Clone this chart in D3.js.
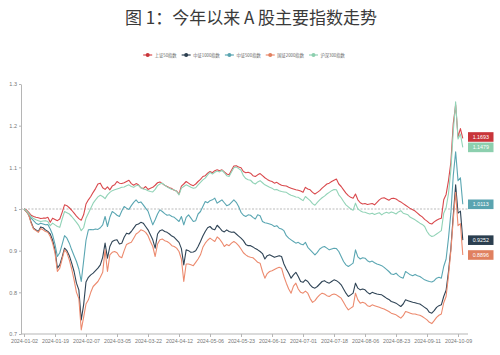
<!DOCTYPE html>
<html><head><meta charset="utf-8">
<script src="https://cdn.jsdelivr.net/npm/d3@7"></script>
<style>
html,body{margin:0;padding:0;background:#fff;}
svg{display:block;}
</style></head><body>
<svg id="c" width="500" height="355"></svg>
<script>
const dates = [
"2024-01-02","2024-01-03","2024-01-04","2024-01-05","2024-01-08","2024-01-09","2024-01-10","2024-01-11","2024-01-12","2024-01-15","2024-01-16","2024-01-17","2024-01-18","2024-01-19","2024-01-22","2024-01-23","2024-01-24","2024-01-25","2024-01-26","2024-01-29","2024-01-30","2024-01-31",
"2024-02-01","2024-02-02","2024-02-05","2024-02-06","2024-02-07","2024-02-08","2024-02-19","2024-02-20","2024-02-21","2024-02-22","2024-02-23","2024-02-26","2024-02-27","2024-02-28","2024-02-29",
"2024-03-01","2024-03-04","2024-03-05","2024-03-06","2024-03-07","2024-03-08","2024-03-11","2024-03-12","2024-03-13","2024-03-14","2024-03-15","2024-03-18","2024-03-19","2024-03-20","2024-03-21","2024-03-22","2024-03-25","2024-03-26","2024-03-27","2024-03-28","2024-03-29",
"2024-04-01","2024-04-02","2024-04-03","2024-04-08","2024-04-09","2024-04-10","2024-04-11","2024-04-12","2024-04-15","2024-04-16","2024-04-17","2024-04-18","2024-04-19","2024-04-22","2024-04-23","2024-04-24","2024-04-25","2024-04-26","2024-04-29","2024-04-30",
"2024-05-06","2024-05-07","2024-05-08","2024-05-09","2024-05-10","2024-05-13","2024-05-14","2024-05-15","2024-05-16","2024-05-17","2024-05-20","2024-05-21","2024-05-22","2024-05-23","2024-05-24","2024-05-27","2024-05-28","2024-05-29","2024-05-30","2024-05-31",
"2024-06-03","2024-06-04","2024-06-05","2024-06-06","2024-06-07","2024-06-11","2024-06-12","2024-06-13","2024-06-14","2024-06-17","2024-06-18","2024-06-19","2024-06-20","2024-06-21","2024-06-24","2024-06-25","2024-06-26","2024-06-27","2024-06-28",
"2024-07-01","2024-07-02","2024-07-03","2024-07-04","2024-07-05","2024-07-08","2024-07-09","2024-07-10","2024-07-11","2024-07-12","2024-07-15","2024-07-16","2024-07-17","2024-07-18","2024-07-19","2024-07-22","2024-07-23","2024-07-24","2024-07-25","2024-07-26","2024-07-29","2024-07-30","2024-07-31",
"2024-08-01","2024-08-02","2024-08-05","2024-08-06","2024-08-07","2024-08-08","2024-08-09","2024-08-12","2024-08-13","2024-08-14","2024-08-15","2024-08-16","2024-08-19","2024-08-20","2024-08-21","2024-08-22","2024-08-23","2024-08-26","2024-08-27","2024-08-28","2024-08-29","2024-08-30",
"2024-09-02","2024-09-03","2024-09-04","2024-09-05","2024-09-06","2024-09-09","2024-09-10","2024-09-11","2024-09-12","2024-09-13","2024-09-18","2024-09-19","2024-09-20","2024-09-23","2024-09-24","2024-09-25","2024-09-26","2024-09-27","2024-09-30",
"2024-10-08","2024-10-09","2024-10-10","2024-10-11"];

const xTickDates = ["2024-01-02","2024-01-19","2024-02-07","2024-03-05","2024-03-22","2024-04-12","2024-05-06","2024-05-23","2024-06-12","2024-07-01","2024-07-18","2024-08-06","2024-08-23","2024-09-11","2024-10-09"];
const yTicks = [0.7,0.8,0.9,1.0,1.1,1.2,1.3];

const seriesNames = ["上证50指数","中证1000指数","中证500指数","国证2000指数","沪深300指数"];

const sz50 = [
1.000,0.998,0.992,0.985,0.982,0.980,0.979,0.977,0.978,0.978,0.980,0.968,0.978,0.975,0.972,0.976,0.992,1.010,1.008,1.003,
0.997,0.990,0.983,0.977,0.973,0.986,1.012,1.022,1.030,1.040,1.049,1.060,1.062,1.051,1.047,1.053,1.046,1.055,1.058,1.066,
1.062,1.061,1.063,1.066,1.069,1.061,1.057,1.061,1.058,1.051,1.049,1.054,1.047,1.050,1.052,1.057,1.063,1.065,1.061,1.057,
1.054,1.051,1.049,1.045,1.043,1.036,1.055,1.060,1.066,1.062,1.058,1.056,1.060,1.066,1.071,1.078,1.080,1.086,1.090,1.087,
1.092,1.094,1.092,1.094,1.089,1.084,1.082,1.093,1.103,1.104,1.101,1.099,1.090,1.087,1.088,1.086,1.080,1.078,1.082,1.085,
1.080,1.075,1.071,1.068,1.066,1.062,1.064,1.060,1.057,1.056,1.055,1.052,1.050,1.048,1.046,1.045,1.043,1.040,1.052,1.048,
1.046,1.040,1.036,1.040,1.044,1.050,1.055,1.060,1.062,1.066,1.069,1.072,1.060,1.054,1.046,1.038,1.032,1.028,1.026,1.036,
1.022,1.015,1.012,1.013,1.011,1.012,1.013,1.010,1.016,1.022,1.026,1.027,1.024,1.021,1.025,1.026,1.024,1.020,1.017,1.013,
1.009,1.005,1.001,0.998,0.995,0.990,0.985,0.981,0.975,0.971,0.966,0.964,0.969,0.973,0.976,0.978,1.022,1.035,1.068,1.112,
1.205,1.250,1.173,1.193,1.1693];

const zz1000 = [
1.000,0.994,0.986,0.968,0.954,0.950,0.946,0.957,0.955,0.950,0.946,0.940,0.925,0.902,0.858,0.866,0.885,0.906,0.900,0.888,
0.870,0.850,0.822,0.806,0.734,0.770,0.825,0.836,0.842,0.846,0.852,0.858,0.866,0.884,0.918,0.882,0.910,0.922,0.925,0.926,
0.916,0.918,0.932,0.942,0.940,0.946,0.954,0.962,0.964,0.968,0.966,0.958,0.950,0.938,0.926,0.906,0.940,0.948,0.950,0.946,
0.944,0.940,0.935,0.932,0.926,0.920,0.905,0.866,0.902,0.900,0.896,0.897,0.900,0.910,0.922,0.935,0.946,0.955,0.958,0.952,
0.950,0.961,0.955,0.948,0.945,0.950,0.946,0.944,0.945,0.940,0.935,0.930,0.924,0.915,0.912,0.912,0.909,0.905,0.902,0.898,
0.893,0.880,0.888,0.890,0.887,0.884,0.886,0.888,0.886,0.868,0.856,0.846,0.834,0.842,0.848,0.838,0.826,0.824,0.830,0.826,
0.818,0.812,0.810,0.814,0.820,0.826,0.828,0.824,0.822,0.826,0.830,0.828,0.824,0.818,0.808,0.798,0.790,0.794,0.798,0.822,
0.810,0.806,0.808,0.806,0.800,0.796,0.800,0.798,0.796,0.795,0.794,0.790,0.786,0.783,0.778,0.776,0.774,0.770,0.766,0.772,
0.782,0.780,0.778,0.776,0.775,0.773,0.772,0.768,0.764,0.760,0.752,0.750,0.756,0.764,0.768,0.770,0.790,0.805,0.850,0.905,
0.985,1.058,0.990,0.995,0.9252];

const zz500 = [
1.000,0.995,0.988,0.978,0.972,0.966,0.963,0.966,0.964,0.962,0.963,0.952,0.938,0.915,0.886,0.895,0.915,0.936,0.930,0.918,
0.902,0.888,0.874,0.856,0.826,0.875,0.925,0.950,0.951,0.950,0.952,0.951,0.955,0.962,0.982,0.958,0.980,0.994,0.990,0.985,
0.982,0.995,1.006,1.002,0.999,1.008,1.016,1.022,1.015,1.017,1.010,1.002,0.995,0.978,0.962,0.974,0.988,0.998,0.994,0.989,
0.985,0.986,0.982,0.980,0.975,0.970,0.982,0.962,0.980,0.986,0.978,0.970,0.972,0.988,0.994,1.006,1.018,1.015,1.020,1.022,
1.026,1.014,1.018,1.022,1.015,1.008,1.010,1.016,1.022,1.016,1.006,0.992,0.985,0.982,0.986,0.985,0.980,0.976,0.986,0.984,
0.970,0.967,0.966,0.964,0.962,0.958,0.960,0.954,0.952,0.948,0.936,0.930,0.926,0.922,0.918,0.920,0.916,0.914,0.920,0.908,
0.902,0.896,0.890,0.896,0.904,0.908,0.910,0.906,0.902,0.904,0.906,0.905,0.898,0.886,0.874,0.866,0.862,0.866,0.870,0.902,
0.885,0.880,0.883,0.882,0.876,0.873,0.875,0.871,0.868,0.866,0.864,0.860,0.855,0.850,0.844,0.843,0.846,0.840,0.836,0.834,
0.850,0.846,0.842,0.840,0.843,0.840,0.838,0.834,0.830,0.828,0.826,0.825,0.828,0.834,0.836,0.834,0.862,0.880,0.930,0.990,
1.080,1.137,1.068,1.075,1.0113];

const gz2000 = [
1.000,0.994,0.985,0.966,0.952,0.948,0.944,0.953,0.950,0.946,0.944,0.934,0.918,0.894,0.850,0.858,0.880,0.902,0.895,0.878,
0.856,0.830,0.800,0.785,0.710,0.740,0.772,0.782,0.800,0.814,0.820,0.826,0.836,0.848,0.902,0.850,0.890,0.896,0.898,0.895,
0.886,0.883,0.900,0.915,0.918,0.920,0.930,0.940,0.944,0.950,0.948,0.944,0.936,0.922,0.910,0.886,0.916,0.926,0.928,0.924,
0.922,0.918,0.912,0.910,0.906,0.898,0.880,0.826,0.868,0.868,0.866,0.864,0.872,0.880,0.890,0.908,0.918,0.925,0.930,0.926,
0.922,0.933,0.928,0.920,0.910,0.915,0.912,0.918,0.922,0.918,0.912,0.904,0.895,0.890,0.886,0.884,0.883,0.878,0.872,0.870,
0.850,0.834,0.845,0.850,0.852,0.855,0.858,0.860,0.858,0.838,0.822,0.808,0.798,0.815,0.822,0.808,0.800,0.798,0.803,0.798,
0.785,0.776,0.780,0.788,0.794,0.798,0.796,0.792,0.790,0.794,0.796,0.794,0.790,0.786,0.776,0.766,0.758,0.762,0.766,0.798,
0.782,0.774,0.776,0.774,0.768,0.766,0.770,0.768,0.766,0.764,0.762,0.760,0.757,0.754,0.750,0.748,0.746,0.742,0.738,0.744,
0.754,0.752,0.750,0.748,0.748,0.746,0.745,0.742,0.738,0.734,0.728,0.725,0.732,0.740,0.745,0.748,0.775,0.790,0.840,0.900,
0.975,1.040,0.960,0.965,0.8896];

const hs300 = [
1.000,0.996,0.989,0.982,0.977,0.974,0.972,0.970,0.971,0.972,0.970,0.960,0.966,0.962,0.958,0.956,0.976,0.994,0.991,0.988,
0.982,0.975,0.968,0.960,0.948,0.955,0.978,0.990,1.002,1.014,1.022,1.029,1.033,1.030,1.025,1.034,1.040,1.044,1.046,1.048,
1.050,1.052,1.053,1.056,1.058,1.054,1.052,1.056,1.057,1.051,1.048,1.047,1.044,1.042,1.041,1.047,1.056,1.060,1.062,1.057,
1.053,1.050,1.047,1.046,1.042,1.034,1.050,1.054,1.058,1.055,1.052,1.050,1.051,1.058,1.064,1.070,1.074,1.082,1.088,1.084,
1.088,1.091,1.089,1.093,1.087,1.080,1.078,1.089,1.099,1.101,1.097,1.093,1.080,1.073,1.070,1.069,1.063,1.060,1.065,1.068,
1.063,1.058,1.055,1.052,1.050,1.046,1.047,1.044,1.042,1.041,1.040,1.036,1.033,1.031,1.029,1.028,1.024,1.020,1.030,1.025,
1.020,1.013,1.009,1.016,1.022,1.027,1.031,1.036,1.040,1.044,1.047,1.046,1.034,1.027,1.018,1.010,1.005,1.000,0.997,1.014,
1.000,0.996,0.993,0.992,0.990,0.988,0.990,0.987,0.989,0.991,0.986,0.990,0.992,0.990,0.993,0.991,0.988,0.993,0.996,0.990,
0.988,0.986,0.980,0.977,0.974,0.970,0.966,0.963,0.958,0.946,0.938,0.934,0.936,0.940,0.944,0.948,0.990,1.003,1.037,1.094,
1.186,1.257,1.168,1.180,1.1479];

const endLabels = ["1.1693","0.9252","1.0113","0.8896","1.1479"];

const seriesValues = [sz50, zz1000, zz500, gz2000, hs300];
const lineColors = ["#d9484c","#2f4456","#5aa6b2","#ec8a6e","#92d3b7"];
const boxColors  = ["#c8353a","#2b3e4f","#5aa4b0","#e0805f","#8ccfae"];

const svg = d3.select("#c");
const axL = 21, axR = 468, axB = 334;
const x = d3.scalePoint().domain(dates).range([24, 462.8]);
const y = d3.scaleLinear().domain([0.7, 1.3]).range([334, 84]);

// title
svg.append("text").attr("x", 251).attr("y", 24).attr("text-anchor", "middle")
  .attr("font-family", "'Noto Sans CJK SC', sans-serif").attr("font-size", 17).attr("fill", "#3a3a3a")
  .text("图 1：今年以来 A 股主要指数走势");

// legend
const lg = svg.append("g").attr("font-family", "'Noto Sans CJK SC', sans-serif").attr("font-size", 4.3).attr("fill", "#666");
let lx = 0;
const items = [];
seriesNames.forEach((n, k) => {
  const g = lg.append("g");
  g.append("line").attr("x1", 0).attr("x2", 9).attr("y1", 0).attr("y2", 0).attr("stroke", lineColors[k]).attr("stroke-width", 1.2);
  g.append("circle").attr("cx", 4.5).attr("cy", 0).attr("r", 2).attr("fill", boxColors[k]);
  const t = g.append("text").attr("x", 11.5).attr("y", 1.6).text(n);
  const w = t.node().getComputedTextLength();
  items.push({g, w});
});
const gap = 5;
let total = items.reduce((s, it) => s + 11.5 + it.w, 0) + gap * (items.length - 1);
let start = 244 - total / 2;
items.forEach(it => { it.g.attr("transform", `translate(${start},55)`); start += 11.5 + it.w + gap; });

// y axis
const gy = svg.append("g").attr("transform", `translate(${axL},0)`)
  .call(d3.axisLeft(y).tickValues(yTicks).tickSize(2).tickSizeOuter(0).tickPadding(2)
    .tickFormat(d => Math.abs(d - 1) < 1e-9 ? "1" : d3.format(".1f")(d)));
gy.select(".domain").attr("stroke", "#b5b5b5");
gy.selectAll(".tick line").attr("stroke", "#b5b5b5");
gy.selectAll(".tick text").attr("font-size", 5.5).attr("fill", "#777").attr("font-family", "'Liberation Sans', sans-serif");

// x axis
const gx = svg.append("g").attr("transform", `translate(0,${axB})`)
  .call(d3.axisBottom(x).tickValues(xTickDates).tickSize(3).tickSizeOuter(0).tickPadding(2));
gx.select(".domain").remove();
gx.selectAll(".tick line").attr("stroke", "#b5b5b5");
gx.selectAll(".tick text").attr("font-size", 5.3).attr("fill", "#777").attr("font-family", "'Liberation Sans', sans-serif");
svg.append("line").attr("x1", axL).attr("x2", axR).attr("y1", axB).attr("y2", axB).attr("stroke", "#b5b5b5");

// reference line at 1
svg.append("line").attr("x1", axL).attr("x2", axR).attr("y1", y(1)).attr("y2", y(1))
  .attr("stroke", "#aaa").attr("stroke-width", 0.8).attr("stroke-dasharray", "2,1.5");

// lines
const line = d3.line().x((d, i) => x(dates[i])).y(d => y(d));
seriesValues.forEach((vals, k) => {
  svg.append("path").datum(vals).attr("d", line).attr("fill", "none")
    .attr("stroke", lineColors[k]).attr("stroke-width", 1.1).attr("stroke-linejoin", "round");
});

// end labels
const bh = 9.6, bw = 25.5;
const labs = seriesValues.map((v, k) => ({k, cy: y(v[v.length - 1]), text: endLabels[k]}));
labs.sort((a, b) => b.cy - a.cy); // bottom first
for (let j = 1; j < labs.length; j++) {
  const lower = labs[j - 1], cur = labs[j];
  if (lower.cy - cur.cy < bh + 0.8) cur.cy = lower.cy - bh - 0.8;
}
labs.forEach(l => {
  svg.append("rect").attr("x", axR).attr("y", l.cy - bh / 2).attr("width", bw).attr("height", bh).attr("fill", boxColors[l.k]);
  svg.append("text").attr("x", axR + bw / 2).attr("y", l.cy + 1.9).attr("text-anchor", "middle")
    .attr("font-family", "'Liberation Sans', sans-serif").attr("font-size", 5.3).attr("fill", "#fff").text(l.text);
});
</script>
</body></html>
